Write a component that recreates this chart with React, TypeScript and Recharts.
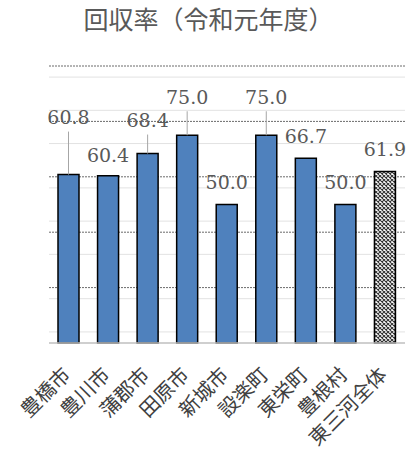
import { BarChart, Bar, XAxis, YAxis, Cell, CartesianGrid } from 'recharts';

const categories = ['豊橋市', '豊川市', '蒲郡市', '田原市', '新城市', '設楽町', '東栄町', '豊根村', '東三河全体'];
const rates = [60.8, 60.4, 68.4, 75.0, 50.0, 75.0, 66.7, 50.0, 61.9];
const majorTicks = [20, 40, 60, 80, 100];
const minorTicks = [4, 8, 12, 16, 24, 28, 32, 36, 44, 48, 52, 56, 64, 68, 72, 76, 84, 88, 92, 96];

// how far each value label sits above its bar (px), and which ones get a leader line
const labelLift = [57, 21, 33, 38, 22, 38, 22, 22, 22];
const hasLeader = [true, false, true, true, false, true, false, false, false];

const data = categories.map((name, i) => ({ name, rate: rates[i] }));

const renderLabel = (props: any) => {
  const { x, y, width, value, index } = props;
  const cx = x + width / 2;
  const ty = y - labelLift[index];
  return (
    <g>
      {hasLeader[index] && <line x1={cx} x2={cx} y1={y} y2={ty + 14} stroke="#a6a6a6" strokeWidth={1} />}
      <text x={cx} y={ty} dy="0.36em" textAnchor="middle" fontFamily="DejaVu Serif" fontSize={19} fill="#595959">
        {Number(value).toFixed(1)}
      </text>
    </g>
  );
};

const CategoryTick = (props: any) => {
  const { x, y, payload } = props;
  const px = x + 3;
  const py = y + 33;
  return (
    <text x={px} y={py} transform={`rotate(-45, ${px}, ${py})`} textAnchor="end"
      fontFamily="'Noto Sans CJK JP'" fontSize={20} fill="#404040">
      {payload.value}
    </text>
  );
};

export default function App() {
  return (
    <div style={{ position: 'absolute', left: 0, top: 0, width: 417, height: 459, background: '#fff' }}>
      <BarChart width={417} height={459} data={data} barSize={21}
        margin={{ top: 66, right: 12, bottom: 0, left: 49 }}>
        <defs>
          <pattern id="hatch" width="4" height="4" patternUnits="userSpaceOnUse">
            <rect width="4" height="4" fill="#ffffff" />
            <path d="M0,0 L4,4 M4,0 L0,4" stroke="#333333" strokeWidth={1.1} />
          </pattern>
        </defs>
        <CartesianGrid vertical={false} horizontalValues={minorTicks} stroke="#e2e2e2" strokeWidth={1} />
        <CartesianGrid vertical={false} horizontalValues={majorTicks} stroke="#6b6b6b" strokeWidth={1} strokeDasharray="2 1" />
        <YAxis hide width={0} domain={[0, 100]} />
        <XAxis dataKey="name" interval={0} tickLine={false} tickSize={0} tickMargin={0} height={116}
          axisLine={{ stroke: '#bfbfbf', strokeWidth: 1.5 }} tick={<CategoryTick />} />
        <Bar dataKey="rate" isAnimationActive={false} stroke="#000" strokeWidth={1.5} label={renderLabel}>
          {data.map((d, i) => (
            <Cell key={d.name} fill={i === data.length - 1 ? 'url(#hatch)' : '#4f81bd'} />
          ))}
        </Bar>
      </BarChart>
      <div style={{
        position: 'absolute', left: 0, top: 0, width: 417, textAlign: 'center',
        fontFamily: "'Noto Sans CJK JP'", fontSize: 25, lineHeight: 'normal', color: '#595959',
      }}>
        回収率（令和元年度）
      </div>
    </div>
  );
}
